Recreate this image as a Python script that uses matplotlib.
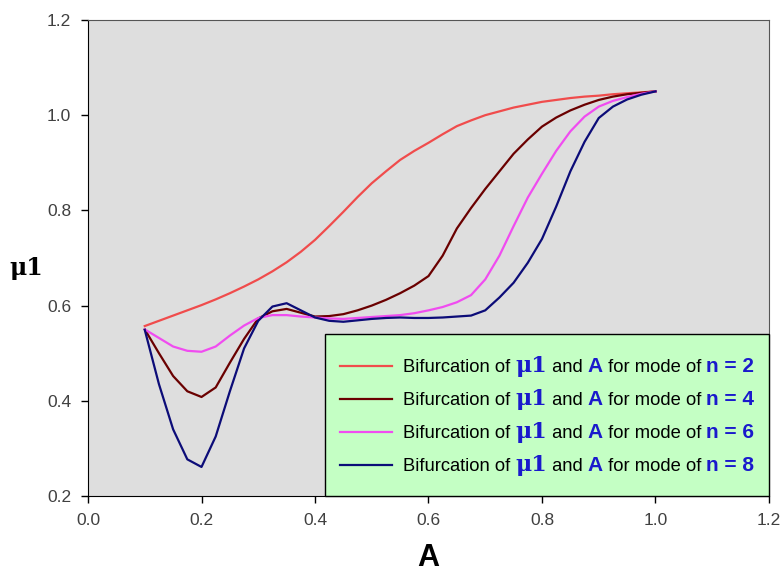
from matplotlib import pyplot as plt
from matplotlib.lines import Line2D
from matplotlib.offsetbox import AnchoredOffsetbox, HPacker, VPacker, TextArea, DrawingArea
import numpy as np

# amplitude A, common to all curves
A = np.round(np.arange(0.1, 1.0001, 0.025), 3)

# mu_1, one list per mode
mu_n2 = [0.557, 0.568, 0.579, 0.590, 0.601, 0.613, 0.626, 0.640, 0.655, 0.672,
         0.691, 0.713, 0.738, 0.767, 0.797, 0.828, 0.857, 0.882, 0.906, 0.925,
         0.942, 0.960, 0.977, 0.989, 1.000, 1.008, 1.016, 1.022, 1.028, 1.032,
         1.036, 1.039, 1.041, 1.044, 1.046, 1.048, 1.050]
mu_n4 = [0.550, 0.500, 0.452, 0.420, 0.408, 0.428, 0.480, 0.530, 0.573, 0.588,
         0.593, 0.585, 0.577, 0.578, 0.582, 0.590, 0.600, 0.612, 0.626, 0.642,
         0.662, 0.705, 0.762, 0.805, 0.845, 0.882, 0.919, 0.949, 0.976, 0.995,
         1.010, 1.022, 1.032, 1.039, 1.044, 1.047, 1.050]
mu_n6 = [0.550, 0.532, 0.514, 0.505, 0.503, 0.514, 0.537, 0.558, 0.574, 0.580,
         0.580, 0.577, 0.575, 0.573, 0.572, 0.574, 0.576, 0.578, 0.580, 0.584,
         0.590, 0.597, 0.607, 0.622, 0.655, 0.705, 0.767, 0.827, 0.877, 0.925,
         0.966, 0.997, 1.018, 1.030, 1.038, 1.045, 1.050]
mu_n8 = [0.549, 0.435, 0.340, 0.277, 0.261, 0.325, 0.420, 0.510, 0.568, 0.598,
         0.605, 0.590, 0.575, 0.568, 0.566, 0.569, 0.572, 0.574, 0.575, 0.574,
         0.574, 0.575, 0.577, 0.579, 0.590, 0.617, 0.648, 0.690, 0.740, 0.808,
         0.882, 0.944, 0.994, 1.018, 1.033, 1.043, 1.050]

modes = [2, 4, 6, 8]
curves = [mu_n2, mu_n4, mu_n6, mu_n8]
colors = ["#f04c4c", "#6a0000", "#f04cf0", "#0c0c78"]

x_ticks = [0.0, 0.2, 0.4, 0.6, 0.8, 1.0, 1.2]
y_ticks = [0.2, 0.4, 0.6, 0.8, 1.0, 1.2]

fig = plt.figure(figsize=(7.83, 5.74), dpi=100)
ax = fig.add_axes([0.1124, 0.1359, 0.8697, 0.8293])
ax.set_facecolor("#dedede")

for mu, col in zip(curves, colors):
    ax.plot(A, mu, color=col, lw=1.6, solid_joinstyle="round")

ax.set_xlim(0, 1.2)
ax.set_ylim(0.2, 1.2)
ax.set_xticks(x_ticks)
ax.set_yticks(y_ticks)
ax.set_xticklabels([f"{v:.1f}" for v in x_ticks])
ax.set_yticklabels([f"{v:.1f}" for v in y_ticks])
ax.tick_params(direction="out", length=5, width=1, colors="black",
               labelcolor="#404040", labelsize=12.5, pad=7)
for lab in ax.get_xticklabels() + ax.get_yticklabels():
    lab.set_family("Liberation Sans")
for s in ["left", "bottom"]:
    ax.spines[s].set_color("black")
for s in ["top", "right"]:
    ax.spines[s].set_color("#555555")

ax.set_xlabel("A", fontsize=22, fontweight="bold", family="Liberation Sans",
              va="center")
ax.xaxis.set_label_coords(0.5, -0.131)
ax.set_ylabel("μ1", fontsize=17, fontweight="bold", family="DejaVu Serif",
              rotation=0, va="center", ha="center")
ax.yaxis.set_label_coords(-0.091, 0.479)

# legend with mixed colours, built from packed text pieces
blk = dict(color="black", size=13.2, family="Liberation Sans")
blu = dict(color="#1a1acc", size=15, weight="bold", family="Liberation Sans")
mu_style = dict(color="#1a1acc", size=16, weight="bold", family="DejaVu Serif")
rows = []
for n, col in zip(modes, colors):
    da = DrawingArea(37.5, 8, 0, 0)
    da.add_artist(Line2D([0, 37.5], [4, 4], color=col, lw=1.6))
    parts = [TextArea("Bifurcation of ", textprops=blk),
             TextArea("μ1", textprops=mu_style),
             TextArea(" and ", textprops=blk),
             TextArea("A", textprops=blu),
             TextArea(" for mode of ", textprops=blk),
             TextArea(f"n = {n}", textprops=blu)]
    txt = HPacker(children=parts, align="baseline", pad=0, sep=0)
    rows.append(HPacker(children=[da, txt], align="center", pad=0, sep=8))
inner = VPacker(children=rows, align="left", pad=0, sep=8)
box = VPacker(children=[DrawingArea(10, 4, 0, 0), inner, DrawingArea(10, 4, 0, 0)],
              align="left", pad=0, sep=0)
leg = AnchoredOffsetbox(loc="lower right", child=box, pad=1.05, frameon=True,
                        bbox_to_anchor=(1.0, 0.0), bbox_transform=ax.transAxes,
                        borderpad=0)
leg.patch.set_facecolor("#c4ffc4")
leg.patch.set_edgecolor("black")
leg.patch.set_linewidth(1)
leg.patch.set_boxstyle("square", pad=0)
ax.add_artist(leg)

plt.savefig("out.png", dpi=100)
plt.close()
